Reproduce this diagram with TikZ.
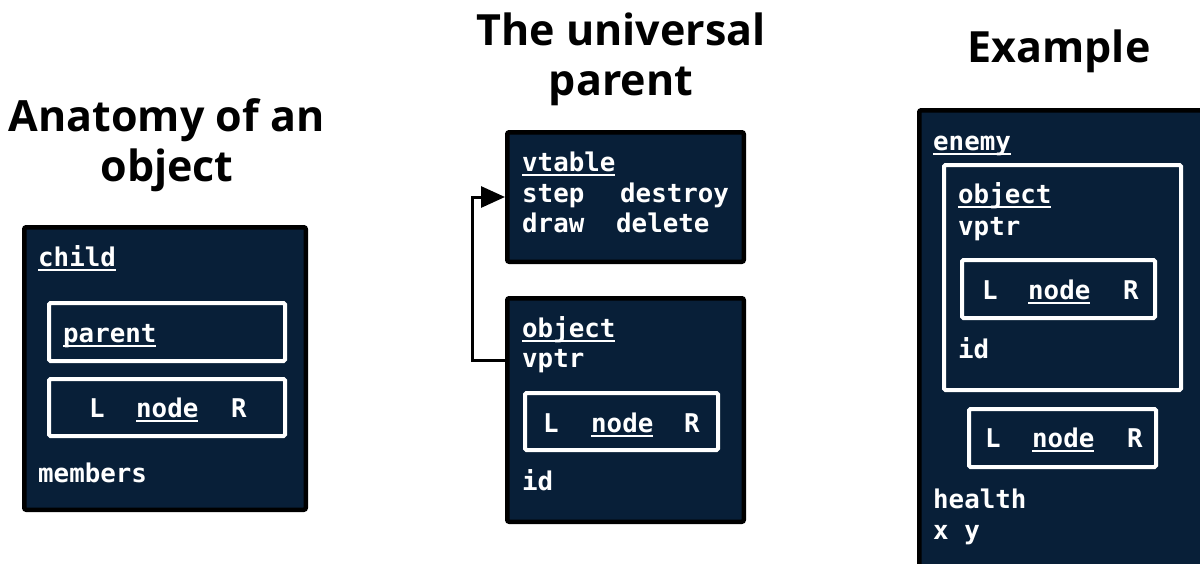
\documentclass[tikz,border=0pt]{standalone}
\usepackage{fontspec}
\usetikzlibrary{arrows.meta}
\newfontfamily\monofam{DejaVu Sans Mono}
\newfontfamily\titlefam{Open Sans}
\definecolor{navy}{RGB}{8,31,56}
\newcommand{\uln}[1]{\setbox0\hbox{#1}\rlap{\rule[-5pt]{\wd0}{2pt}}\box0}
\tikzset{
  outerbox/.style={draw=black, fill=navy, line width=4.5pt, rounded corners=2pt, inner sep=0pt},
  innerbox/.style={draw=white, line width=4pt, rounded corners=1.5pt, inner sep=0pt},
  txt/.style={text=white, font=\monofam\bfseries\fontsize{25.8}{30}\selectfont, anchor=base west, inner sep=0pt},
  ttl/.style={text=black, font=\titlefam\bfseries\fontsize{43}{50}\selectfont, anchor=base, inner sep=0pt},
  ptr/.style={draw=black, line width=3pt, -{Triangle[length=24pt,width=21pt]}}
}
\begin{document}
\begin{tikzpicture}[x=1pt,y=-1pt]
\useasboundingbox (0,0) rectangle (1200,563);
\clip (0,0) rectangle (1200,563);
% titles
\node[ttl] (t1a) at (166.5,131) {Anatomy of an};
\node[ttl] (t1b) at (167,181) {object};
\node[ttl] (t2a) at (621,45) {The universal};
\node[ttl] (t2b) at (621,95) {parent};
\node[ttl] (t3) at (1059,62) {Example};
% left: anatomy
\node[outerbox, minimum width=281.5pt, minimum height=282.5pt] (child) at (165,368.5) {};
\node[innerbox, minimum width=236pt, minimum height=58pt] (parentbox) at (167,332) {};
\node[innerbox, minimum width=236pt, minimum height=57pt] (nodeA) at (167,407.5) {};
\node[txt] (childlbl) at (38,266) {\uln{child}};
\node[txt] (parentlbl) at (63,342) {\uln{parent}};
\node[txt] (LA) at (89,417) {L};
\node[txt] (nA) at (136,417) {\uln{node}};
\node[txt] (RA) at (231,417) {R};
\node[txt] (members) at (38,482) {members};
% middle: universal parent
\node[outerbox, minimum width=236.5pt, minimum height=129.5pt] (vt) at (625.5,197) {};
\node[outerbox, minimum width=236.5pt, minimum height=223.5pt] (obj) at (625.5,410) {};
\node[innerbox, minimum width=193pt, minimum height=57pt] (nodeB) at (621.5,421.5) {};
\node[txt] (vtlbl) at (522,171) {\uln{vtable}};
\node[txt] (step) at (522,202) {step};
\node[txt] (destroy) at (620,202) {destroy};
\node[txt] (drawlbl) at (522,232) {draw};
\node[txt] (delete) at (616,232) {delete};
\node[txt] (objlbl) at (522,337) {\uln{object}};
\node[txt] (vptr) at (522,367) {vptr};
\node[txt] (LB) at (543,432) {L};
\node[txt] (nB) at (591,432) {\uln{node}};
\node[txt] (RB) at (684,432) {R};
\node[txt] (idB) at (522,490) {id};
\coordinate (turn) at (472,0);
\coordinate (ptrY) at (0,360);
\coordinate (tipY) at (0,197);
\draw[ptr] (obj.west |- ptrY) -- (turn |- ptrY) -- (turn |- tipY) -- (vt.west |- tipY);
% right: example
\node[outerbox, minimum width=293.5pt, minimum height=467.5pt] (enemy) at (1066,344) {};
\node[innerbox, minimum width=237pt, minimum height=225pt] (objC) at (1062.5,277.5) {};
\node[innerbox, minimum width=193pt, minimum height=58pt] (nodeC) at (1058.5,289) {};
\node[innerbox, minimum width=187pt, minimum height=58pt] (nodeD) at (1062.5,438) {};
\node[txt] (enemylbl) at (933,150) {\uln{enemy}};
\node[txt] (objClbl) at (958,203) {\uln{object}};
\node[txt] (vptrC) at (958,235) {vptr};
\node[txt] (LC) at (982,299) {L};
\node[txt] (nC) at (1028,299) {\uln{node}};
\node[txt] (RC) at (1123,299) {R};
\node[txt] (idC) at (958,358) {id};
\node[txt] (LD) at (985,447) {L};
\node[txt] (nD) at (1032,447) {\uln{node}};
\node[txt] (RD) at (1127,447) {R};
\node[txt] (health) at (933,508) {health};
\node[txt] (xy) at (933,539) {x y};
\end{tikzpicture}
\end{document}
